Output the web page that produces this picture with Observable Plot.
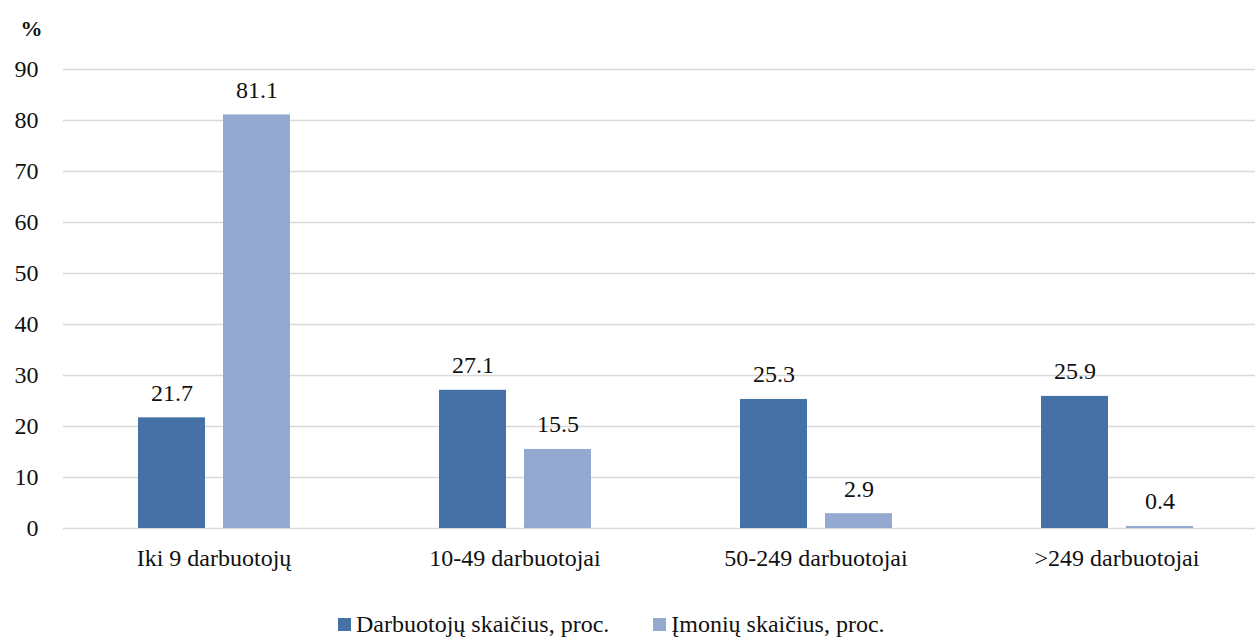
<!DOCTYPE html>
<html>
<head>
<meta charset="utf-8">
<script src="https://cdn.jsdelivr.net/npm/d3@7"></script>
<script src="https://cdn.jsdelivr.net/npm/@observablehq/plot@0.6"></script>
</head>
<body style="margin:0;padding:0;background:#fff;width:1255px;height:637px;overflow:hidden;font-family:'Liberation Serif','Times New Roman',serif;">
<div id="chart" style="font-family:'Liberation Serif','Times New Roman',serif;"></div>
<script>
const categories = ["Iki 9 darbuotojų", "10-49 darbuotojai", "50-249 darbuotojai", ">249 darbuotojai"];
const seriesNames = ["Darbuotojų skaičius, proc.", "Įmonių skaičius, proc."];
const employeesPct = [21.7, 27.1, 25.3, 25.9];
const companiesPct = [81.1, 15.5, 2.9, 0.4];
const yTicks = [0, 10, 20, 30, 40, 50, 60, 70, 80, 90];
const colors = ["#4571a7", "#94a9d0"];
const FONT = "Liberation Serif";

const data = [];
categories.forEach((c, i) => {
  data.push({category: c, series: seriesNames[0], value: employeesPct[i]});
  data.push({category: c, series: seriesNames[1], value: companiesPct[i]});
});

const chart = Plot.plot({
  width: 1255,
  height: 595,
  marginLeft: 63,
  marginRight: -12,
  marginTop: 69,
  marginBottom: 67,
  style: {fontFamily: FONT, fontSize: "24px", color: "#111", background: "#fff", overflow: "visible", display: "block"},
  fx: {domain: categories, padding: 0, label: null, axis: "bottom", tickSize: 0, tickPadding: 20},
  x: {domain: seriesNames, paddingInner: 0.212, paddingOuter: 0.876, axis: null},
  y: {domain: [0, 90], ticks: yTicks, label: null, axis: null},
  color: {domain: seriesNames, range: colors},
  marks: [
    Plot.gridY(yTicks, {stroke: "#d9d9d9", strokeOpacity: 1, strokeWidth: 1.5}),
    Plot.axisY(yTicks, {tickSize: 0, tickPadding: 25, label: null, fontSize: 24, fontFamily: FONT}),
    Plot.barY(data, {fx: "category", x: "series", y: "value", fill: "series"}),
    Plot.text(data, {fx: "category", x: "series", y: "value", text: d => d.value.toFixed(1), lineAnchor: "bottom", dy: -17, fontSize: 24, fontFamily: FONT, fill: "#111"}),
    Plot.text(["%"], {frameAnchor: "top-left", dx: -43, dy: -49, text: d => d, fontWeight: "bold", fontSize: 22, fontFamily: FONT, fill: "#111", facet: "super"})
  ]
});
document.getElementById("chart").appendChild(chart);

const legend = document.createElement("div");
legend.setAttribute("style", "display:flex;align-items:center;padding-left:338px;margin-top:16px;font-family:'Liberation Serif','Times New Roman',serif;font-size:24px;color:#111;");
seriesNames.forEach((s, i) => {
  const item = document.createElement("div");
  item.setAttribute("style", "display:flex;align-items:center;" + (i > 0 ? "margin-left:44px;" : ""));
  const sw = document.createElement("span");
  sw.setAttribute("style", "display:inline-block;width:13px;height:13px;margin-right:5px;background:" + colors[i] + ";");
  item.appendChild(sw);
  const t = document.createElement("span");
  t.setAttribute("style", "font-family:'Liberation Serif','Times New Roman',serif;");
  t.textContent = s;
  item.appendChild(t);
  legend.appendChild(item);
});
document.body.appendChild(legend);
</script>
</body>
</html>
